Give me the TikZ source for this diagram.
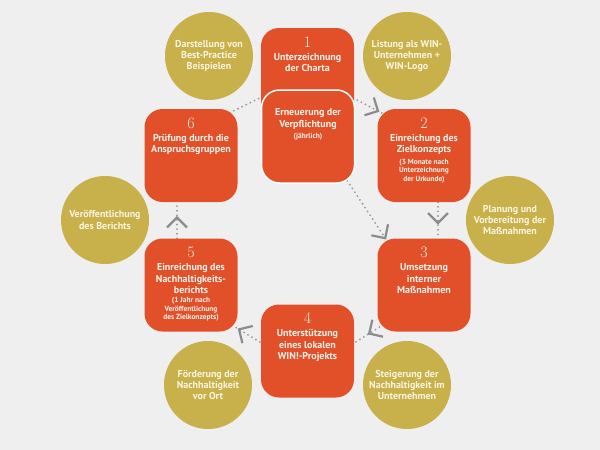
\documentclass[tikz,border=0pt]{standalone}
\usepackage{fontspec}
\setsansfont{PT Sans}
\usepackage{tikz}
\usetikzlibrary{arrows.meta,decorations.markings}

\definecolor{winorange}{HTML}{E2502A}
\definecolor{wingold}{HTML}{C8B14B}
\definecolor{winbg}{HTML}{EFEFEF}
\definecolor{dotgray}{HTML}{9A9A9A}
\definecolor{chevgray}{HTML}{8C8C8C}
\definecolor{boxtxt}{HTML}{FFF3EC}
\definecolor{circtxt}{HTML}{FAF5E1}

\newcommand{\stepnum}{\rmfamily\mdseries\fontsize{16}{16}\selectfont}

\pgfdeclarelayer{bg}
\pgfsetlayers{bg,main}

\begin{document}
\begin{tikzpicture}[x=1pt,y=1pt,
  stepbox/.style={fill=winorange, rounded corners=18pt, minimum width=93pt, minimum height=93pt, inner sep=0pt},
  steptext/.style={anchor=north, text=boxtxt, font=\sffamily\bfseries\fontsize{10}{11.3}\selectfont, align=center, inner sep=0pt},
  stepnote/.style={anchor=north, text=boxtxt, font=\sffamily\bfseries\fontsize{7.4}{8.5}\selectfont, align=center, inner sep=0pt},
  goal/.style={circle, fill=wingold, minimum size=88pt, inner sep=0pt, text=circtxt, font=\sffamily\bfseries\fontsize{10}{11.3}\selectfont, align=center},
  flow/.style={dotgray, line width=2.1pt, line cap=round, dash pattern=on 0pt off 4.6pt},
  chev/.tip={Straight Barb[length=10pt,width=20pt,line width=2.2pt,color=chevgray]},
  chevat/.style={postaction={decorate}, decoration={markings, mark=at position #1 with {\arrow[solid]{chev}}}}]

\useasboundingbox (0,0) rectangle (600,-450);

% steps
\node[stepbox] (b1) at (307.5,-74.5) {};
\node[stepbox] (b2) at (424,-155.5) {};
\node[stepbox] (b3) at (424,-285) {};
\node[stepbox] (b4) at (307.5,-351) {};
\node[stepbox] (b5) at (191,-285) {};
\node[stepbox] (b6) at (191,-155.5) {};
\node[stepbox, draw=white, line width=1.5pt] (b0) at (308,-136.5) {};

\node[steptext] (t1) at ([yshift=-8.5pt]b1.north) {{\stepnum 1}\\[1.9pt]Unterzeichnung\\der Charta};
\node[steptext] (t2) at ([yshift=-8.5pt]b2.north) {{\stepnum 2}\\[1.9pt]Einreichung des\\Zielkonzepts};
\node[stepnote] (n2) at ([yshift=-3.8pt]t2.south) {(3 Monate nach\\Unterzeichnung\\der Urkunde)};
\node[steptext] (t3) at ([yshift=-8.5pt]b3.north) {{\stepnum 3}\\[1.9pt]Umsetzung\\interner\\Maßnahmen};
\node[steptext] (t4) at ([yshift=-8.5pt]b4.north) {{\stepnum 4}\\[1.9pt]Unterstützung\\eines lokalen\\WIN!-Projekts};
\node[steptext] (t5) at ([yshift=-8.5pt]b5.north) {{\stepnum 5}\\[1.9pt]Einreichung des\\Nachhaltigkeits-\\berichts};
\node[stepnote] (n5) at ([yshift=-3.8pt]t5.south) {(1 Jahr nach\\Veröffentlichung\\des Zielkonzepts)};
\node[steptext] (t6) at ([yshift=-8.5pt]b6.north) {{\stepnum 6}\\[1.9pt]Prüfung durch die\\Anspruchsgruppen};
\node[steptext] (t0) at ([yshift=-19.5pt]b0.north) {Erneuerung der\\Verpflichtung};
\node[stepnote] (n0) at ([yshift=-3.8pt]t0.south) {(jährlich)};

% goals
\node[goal] (g61) at (209,-56) {Darstellung von\\Best-Practice\\Beispielen};
\node[goal] (g12) at (407,-56) {Listung als WIN-\\Unternehmen +\\WIN-Logo};
\node[goal] (g23) at (510,-220) {Planung und\\Vorbereitung der\\Maßnahmen};
\node[goal] (g34) at (407,-385) {Steigerung der\\Nachhaltigkeit im\\Unternehmen};
\node[goal] (g45) at (208,-385) {Förderung der\\Nachhaltigkeit\\vor Ort};
\node[goal] (g56) at (105,-220) {Veröffentlichung\\des Berichts};

% cycle
\begin{pgfonlayer}{bg}
\fill[winbg] (0,0) rectangle (600,-450);
\draw[flow] ([shift={(-8,-4)}]b6.north east) -- ([shift={(-1,-23.5)}]b1.west);
\draw[flow, chevat=0.87] ([shift={(-1,-23.5)}]b1.east) -- ([shift={(6,-5)}]b2.north west);
\draw[flow, chevat=0.97] ([shift={(-8,3)}]b0.south east) -- ([shift={(10,-3)}]b3.north west);
\draw[flow, chevat=0.62] ([xshift=14pt]b2.south) -- ([xshift=14pt]b3.north);
\draw[flow, chevat=0.53] ([shift={(6,7)}]b3.south west) -- ([shift={(0,8)}]b4.east);
\draw[flow, chevat=0.88] ([shift={(-1,9)}]b4.west) -- ([shift={(-3,5)}]b5.south east);
\draw[flow, chevat=0.62] ([xshift=-14pt]b5.north) -- ([xshift=-14pt]b6.south);
\end{pgfonlayer}
\end{tikzpicture}
\end{document}
